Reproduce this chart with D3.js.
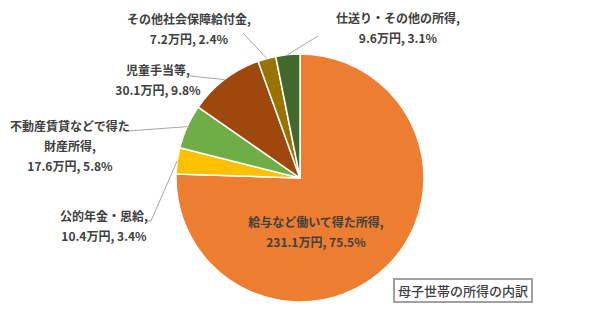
<!DOCTYPE html>
<html>
<head>
<meta charset="utf-8">
<script src="https://cdn.jsdelivr.net/npm/d3@7/dist/d3.min.js"></script>
<style>
  html, body { margin: 0; padding: 0; background: #fff; }
  svg { display: block; }
  text { font-family: "Noto Sans CJK JP", "Noto Sans", sans-serif; }
</style>
</head>
<body>
<svg id="chart" width="600" height="328"></svg>
<script>
// 母子世帯の所得の内訳 (万円)
const categories = [
  "給与など働いて得た所得",
  "公的年金・恩給",
  "不動産賃貸などで得た財産所得",
  "児童手当等",
  "その他社会保障給付金",
  "仕送り・その他の所得"
];
const amounts = [231.1, 10.4, 17.6, 30.1, 7.2, 9.6];
const percents = [75.5, 3.4, 5.8, 9.8, 2.4, 3.1];
const colors = ["#ED7D31", "#FFC000", "#70AD47", "#9E480E", "#997300", "#43682B"];

// label line breaks for each category
const labelLines = [
  ["給与など働いて得た所得,"],
  ["公的年金・恩給,"],
  ["不動産賃貸などで得た", "財産所得,"],
  ["児童手当等,"],
  ["その他社会保障給付金,"],
  ["仕送り・その他の所得,"]
];

// layout: label centre (first line baseline) and leader line bend point
const layout = [
  { x: 316, y: 227, leader: null },
  { x: 104, y: 221, leader: [[146, 221], [151, 221]] },
  { x: 70,  y: 131, leader: [[128, 131]] },
  { x: 158, y: 75,  leader: [[190, 76]] },
  { x: 189, y: 24,  leader: [[243, 33]] },
  { x: 398, y: 23,  leader: [[318, 36]] }
];

const svg = d3.select("#chart");
const cx = 300, cy = 178, R = 124;
const lineH = 20;

const data = categories.map((c, i) => ({
  name: c, amount: amounts[i], pct: percents[i], color: colors[i],
  lines: labelLines[i], lay: layout[i]
}));

const pie = d3.pie().value(d => d.amount).sort(null);
const arcs = pie(data);
const arc = d3.arc().innerRadius(0).outerRadius(R);
const edge = d3.arc().innerRadius(R).outerRadius(R);

const g = svg.append("g").attr("transform", `translate(${cx},${cy})`);

g.selectAll("path.slice")
  .data(arcs)
  .join("path")
  .attr("class", "slice")
  .attr("d", arc)
  .attr("fill", d => d.data.color)
  .attr("stroke", "#fff")
  .attr("stroke-width", 1.5)
  .attr("stroke-linejoin", "round");

// leader lines from slice edge to label
const lineGen = d3.line();
arcs.forEach(a => {
  const lay = a.data.lay;
  if (!lay.leader) return;
  const p = edge.centroid(a);
  const pts = lay.leader.map(q => [q[0] - cx, q[1] - cy]);
  pts.push(p);
  g.append("path")
    .attr("d", lineGen(pts))
    .attr("fill", "none")
    .attr("stroke", "#A6A6A6")
    .attr("stroke-width", 1);
});

// labels
arcs.forEach(a => {
  const d = a.data;
  const lines = d.lines.concat([`${d.amount.toFixed(1)}万円, ${d.pct.toFixed(1)}%`]);
  const t = svg.append("text")
    .attr("x", d.lay.x)
    .attr("y", d.lay.y)
    .attr("text-anchor", "middle")
    .attr("font-size", 12)
    .attr("font-weight", "bold")
    .attr("fill", "#404040");
  lines.forEach((ln, k) => {
    t.append("tspan")
      .attr("x", d.lay.x)
      .attr("y", d.lay.y + k * lineH)
      .text(ln);
  });
});

// title box
const title = svg.append("g");
title.append("rect")
  .attr("x", 394).attr("y", 279)
  .attr("width", 138).attr("height", 23)
  .attr("fill", "#fff")
  .attr("stroke", "#A0A0A0")
  .attr("stroke-width", 2);
title.append("text")
  .attr("x", 463).attr("y", 295.5)
  .attr("text-anchor", "middle")
  .attr("font-size", 13)
  .attr("font-weight", 500)
  .attr("fill", "#404040")
  .text("母子世帯の所得の内訳");
</script>
</body>
</html>
